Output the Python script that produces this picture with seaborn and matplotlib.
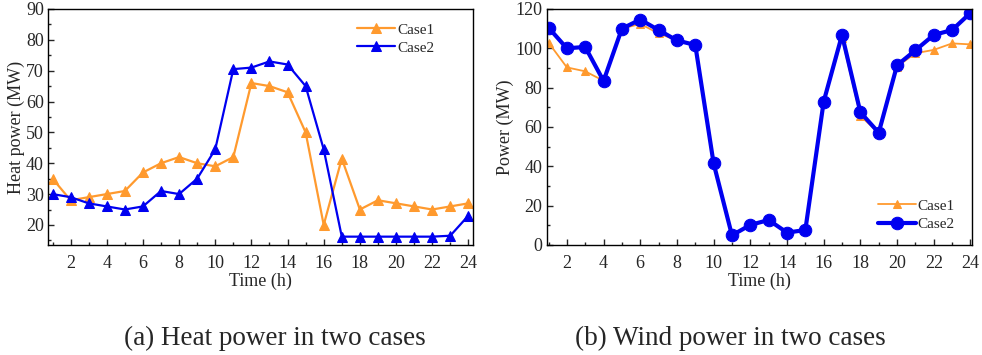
import numpy as np
import pandas as pd
import matplotlib
matplotlib.use("Agg")
import matplotlib.pyplot as plt
import seaborn as sns
from matplotlib.ticker import MultipleLocator

hours = list(range(1, 25))
heat_case1 = [35, 28, 29, 30, 31, 37, 40, 42, 40, 39, 42, 66, 65, 63, 50, 20, 41.5, 25, 28, 27, 26, 25, 26, 27]
heat_case2 = [30, 29, 27, 26, 25, 26, 31, 30, 35, 44.5, 70.5, 71, 73, 72, 65, 44.5, 16.2, 16.2, 16.2, 16.2, 16.2, 16.2, 16.5, 23]
wind_case1 = [102.9, 90.3, 88.3, 83.5, 110, 112.4, 107.6, 104, 101.7, 41.5, 4.9, 10.2, 12.7, 6.3, 7.6, 72.9, 105, 65.6, 57, 90.7, 97.5, 99.2, 102.5, 102]
wind_case2 = [110.5, 100, 100.7, 83.4, 110, 114.6, 109.3, 104, 101.7, 41.5, 4.9, 10.2, 12.7, 6.3, 7.6, 72.9, 106.8, 67.5, 57.1, 91.4, 99, 106.8, 109.3, 118]
x_ticks = list(range(2, 25, 2))

ORANGE = "#FF9A2E"
BLUE = "#0000F0"

sns.set_style("ticks")
plt.rcParams["font.family"] = ["Liberation Serif", "DejaVu Serif"]

fig = plt.figure(figsize=(9.82, 3.55), dpi=100)
ax1 = fig.add_axes([0.0489, 0.3099, 0.4328, 0.6648])
ax2 = fig.add_axes([0.5567, 0.3099, 0.4334, 0.6648])

df_heat = pd.DataFrame({"Time": hours, "Case1": heat_case1, "Case2": heat_case2})
df_wind = pd.DataFrame({"Time": hours, "Case1": wind_case1, "Case2": wind_case2})

sns.lineplot(data=df_heat, x="Time", y="Case1", ax=ax1, color=ORANGE, lw=1.6,
             marker="^", markersize=7, markeredgecolor=ORANGE, label="Case1")
sns.lineplot(data=df_heat, x="Time", y="Case2", ax=ax1, color=BLUE, lw=1.6,
             marker="^", markersize=7, markeredgecolor=BLUE, label="Case2")

sns.lineplot(data=df_wind, x="Time", y="Case1", ax=ax2, color=ORANGE, lw=1.3,
             marker="^", markersize=6, markeredgecolor=ORANGE, label="Case1")
sns.lineplot(data=df_wind, x="Time", y="Case2", ax=ax2, color=BLUE, lw=3.0,
             marker="o", markersize=9, markeredgecolor=BLUE, label="Case2")

ax1.set_xlim(0.75, 24.26)
ax1.set_ylim(13.5, 90)
ax1.yaxis.set_major_locator(MultipleLocator(10))
ax1.yaxis.set_minor_locator(MultipleLocator(5))
ax1.set_ylabel("Heat power (MW)", fontsize=13, labelpad=1)

ax2.set_xlim(0.9, 24.1)
ax2.set_ylim(0, 120)
ax2.yaxis.set_major_locator(MultipleLocator(20))
ax2.yaxis.set_minor_locator(MultipleLocator(10))
ax2.set_ylabel("Power (MW)", fontsize=13, labelpad=1)

for ax in (ax1, ax2):
    ax.set_xticks(x_ticks)
    ax.xaxis.set_minor_locator(MultipleLocator(1))
    ax.set_xlabel("Time (h)", fontsize=13, labelpad=1)
    ax.tick_params(which="major", direction="in", length=4, width=1, labelsize=13,
                   top=False, right=False)
    ax.tick_params(axis="x", which="major", pad=7)
    ax.tick_params(axis="y", which="major", pad=3)
    ax.tick_params(which="minor", direction="in", length=2, width=1, top=False, right=False)
    for s in ax.spines.values():
        s.set_visible(True)
        s.set_linewidth(1.0)
        s.set_color("black")

ax1.legend(loc="upper right", bbox_to_anchor=(0.93, 0.98), frameon=False, fontsize=11,
           handlelength=2.5, handletextpad=0.1, labelspacing=0.3, borderaxespad=0.2)
ax2.legend(loc="lower right", bbox_to_anchor=(0.98, 0.02), frameon=False, fontsize=11,
           handlelength=2.5, handletextpad=0.1, labelspacing=0.3, borderaxespad=0.2)

fig.text(0.280, 0.048, "(a) Heat power in two cases", ha="center", va="center", fontsize=19.5)
fig.text(0.744, 0.048, "(b) Wind power in two cases", ha="center", va="center", fontsize=19.5)

fig.savefig("out.png", dpi=100)
